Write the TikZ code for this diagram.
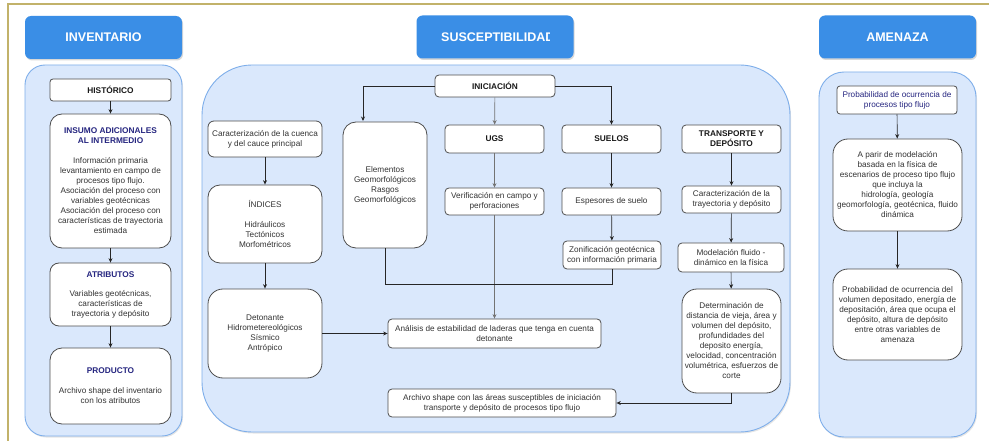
\documentclass[tikz,border=0pt]{standalone}
\usepackage{fontspec}
\setmainfont{Liberation Sans}
\usetikzlibrary{arrows.meta,shadows}
\definecolor{hdrblue}{HTML}{3A8EE6}
\definecolor{contfill}{HTML}{DAE8FC}
\definecolor{contline}{HTML}{7EAEEA}
\definecolor{gold}{HTML}{C2B26A}
\definecolor{boxline}{HTML}{4D4D4D}
\definecolor{txt}{HTML}{333333}
\definecolor{navy}{HTML}{262680}
\newcommand\navtitle[1]{{\color{navy}\bfseries\fontsize{8.3}{10}\selectfont #1}}
\newcommand\blktitle[1]{{\color{black!90}\bfseries\fontsize{8.3}{10}\selectfont #1}}
\begin{document}
\begin{tikzpicture}[x=1pt,y=-1pt,
  hdr/.style={fill=hdrblue, rounded corners=6pt, minimum width=157pt, minimum height=43pt,
    text=white, font=\bfseries\fontsize{12.5}{14}\selectfont, inner sep=0pt,
    drop shadow={opacity=0.3, shadow xshift=1pt, shadow yshift=-1.5pt}},
  cont/.style={fill=contfill, draw=contline, line width=0.9pt,
    drop shadow={opacity=0.2, shadow xshift=1pt, shadow yshift=-1.5pt}},
  bx/.style={draw=boxline, fill=white, line width=0.8pt, rounded corners=4pt, align=center,
    text=txt, font=\fontsize{8.2}{10}\selectfont, inner sep=1pt},
  bbx/.style={bx, rounded corners=13pt},
  arr/.style={draw=black!85, line width=0.7pt, -{Stealth[length=4.5pt,width=4pt]}},
  garr/.style={arr, draw=black!55},
  ln/.style={draw=black!85, line width=0.7pt}
]
\useasboundingbox (0,0) rectangle (989,441);
\fill[white] (0,0) rectangle (989,441);
\draw[gold, line width=1.2pt] (8,441) -- (8,4) -- (989,4);

% headers
\node[hdr] (hinv) at (103.5,37.5) {INVENTARIO};
\node[hdr] (hsusc) at (495,37) {};
\begin{scope}
  \clip (417,16) rectangle (549,58);
  \node[anchor=west, text=white, font=\bfseries\fontsize{12.5}{14}\selectfont, inner sep=0pt] (tsusc) at (441,37) {SUSCEPTIBILIDAD};
\end{scope}
\node[hdr] (hame) at (897.5,37) {AMENAZA};

% containers
\draw[cont, rounded corners=20pt] (25,65) rectangle (182,436);
\draw[cont, rounded corners=50pt] (202,65) rectangle (790,432);
\draw[cont, rounded corners=25pt] (819,72) rectangle (976,437);

% INVENTARIO column
\node[bx, rounded corners=3pt, minimum width=121pt, minimum height=22pt] (hist) at (110.5,90) {\blktitle{HISTÓRICO}};
\node[bbx, rounded corners=12pt, minimum width=121pt, minimum height=134pt] (insumo) at (110.5,181)
  {\navtitle{INSUMO ADICIONALES}\\\navtitle{AL INTERMEDIO}\\[10pt]
   Información primaria\\levantamiento en campo de\\procesos tipo flujo.\\Asociación del proceso con\\variables geotécnicas\\Asociación del proceso con\\características de trayectoria\\estimada};
\node[bbx, rounded corners=9pt, minimum width=121pt, minimum height=63pt] (atrib) at (110.5,294.5)
  {\navtitle{ATRIBUTOS}\\[9pt]Variables geotécnicas,\\características de\\trayectoria y depósito};
\node[bbx, rounded corners=12pt, minimum width=121pt, minimum height=76pt] (prod) at (110.5,386)
  {\navtitle{PRODUCTO}\\[10pt]Archivo shape del inventario\\con los atributos};
\draw[arr] (hist) -- (insumo);
\draw[arr] (insumo) -- (atrib);
\draw[arr] (atrib) -- (prod);

% SUSCEPTIBILIDAD column
\node[bx, minimum width=120pt, minimum height=22pt] (inic) at (495,86) {\blktitle{INICIACIÓN}};
\node[bbx, minimum width=84pt, minimum height=126pt] (elem) at (385,185)
  {Elementos\\Geomorfológicos\\Rasgos\\Geomorfológicos};
\node[bx, minimum width=99pt, minimum height=28pt] (ugs) at (494.5,139) {\blktitle{UGS}};
\node[bx, minimum width=99pt, minimum height=28pt] (suelos) at (611.5,139) {\blktitle{SUELOS}};
\node[bx, minimum width=99pt, minimum height=27pt] (verif) at (494.5,201.5) {Verificación en campo y\\perforaciones};
\node[bx, minimum width=99pt, minimum height=27pt] (espes) at (611.5,201.5) {Espesores de suelo};
\node[bx, minimum width=98pt, minimum height=28pt] (zonif) at (612,255) {Zonificación geotécnica\\con información primaria};
\node[bx, rounded corners=6pt, minimum width=114pt, minimum height=36pt] (cuenca) at (265,139) {Caracterización de la cuenca\\y del cauce principal};
\node[bbx, rounded corners=12pt, minimum width=114pt, minimum height=78pt] (indic) at (265,224) {ÍNDICES\\[10pt]Hidráulicos\\Tectónicos\\Morfométricos};
\node[bbx, rounded corners=15pt, minimum width=114pt, minimum height=89pt] (deton) at (265,333.5) {Detonante\\Hidrometereológicos\\Sísmico\\Antrópico};
\node[bx, minimum width=213pt, minimum height=29pt] (anal) at (494.5,333.5) {Análisis de estabilidad de laderas que tenga en cuenta\\detonante};
\node[bx, minimum width=228pt, minimum height=28pt] (arch) at (502,403) {Archivo shape con las áreas susceptibles de iniciación\\transporte y depósito de procesos tipo flujo};
\node[bx, minimum width=99pt, minimum height=28pt] (transp) at (731.5,139) {\blktitle{TRANSPORTE Y}\\\blktitle{DEPÓSITO}};
\node[bx, minimum width=99pt, minimum height=27pt] (trayec) at (731.5,199.5) {Caracterización de la\\trayectoria y depósito};
\node[bx, minimum width=106pt, minimum height=29pt] (model) at (731,257.5) {Modelación fluido -\\dinámico en la física};
\node[bbx, rounded corners=15pt, minimum width=99pt, minimum height=104pt] (determ) at (731.5,341)
  {Determinación de\\distancia de vieja, área y\\volumen del depósito,\\profundidades del\\deposito energía,\\velocidad, concentración\\volumétrica, esfuerzos de\\corte};

\coordinate (elemin) at (363,121);
\coordinate (junc) at (385,284);
\draw[arr] (inic.west) -| (elemin);
\draw[garr] (inic) -- (ugs);
\draw[arr] (inic.east) -| (suelos.north);
\draw[garr] (ugs) -- (verif);
\draw[garr] (verif) -- (anal);
\draw[arr] (suelos) -- (espes);
\draw[arr] (espes) -- (zonif);
\draw[ln] (elem.south) -- (junc) -| (zonif.south);
\draw[arr] (cuenca) -- (indic);
\draw[arr] (indic) -- (deton);
\draw[arr] (deton) -- (anal);
\draw[arr] (transp) -- (trayec);
\draw[arr] (trayec) -- (model);
\draw[arr] (model) -- (determ);
\draw[arr] (determ.south) |- (arch.east);

% AMENAZA column
\node[bx, rounded corners=3pt, minimum width=120pt, minimum height=28pt] (prob) at (897,100)
  {\color{navy}Probabilidad de ocurrencia de\\\color{navy}procesos tipo flujo};
\node[bbx, rounded corners=15pt, minimum width=129pt, minimum height=92pt] (parir) at (897.5,185)
  {A parir de modelación\\basada en la física de\\escenarios de proceso tipo flujo\\que incluya la\\hidrología, geología\\geomorfología, geotécnica, fluido\\dinámica};
\node[bbx, rounded corners=15pt, minimum width=129pt, minimum height=91pt] (probvol) at (897.5,314.5)
  {Probabilidad de ocurrencia del\\volumen depositado, energía de\\depositación, área que ocupa el\\depósito, altura de depósito\\entre otras variables de\\amenaza};
\draw[arr] (prob) -- (parir);
\draw[arr] (parir) -- (probvol);
\end{tikzpicture}
\end{document}
